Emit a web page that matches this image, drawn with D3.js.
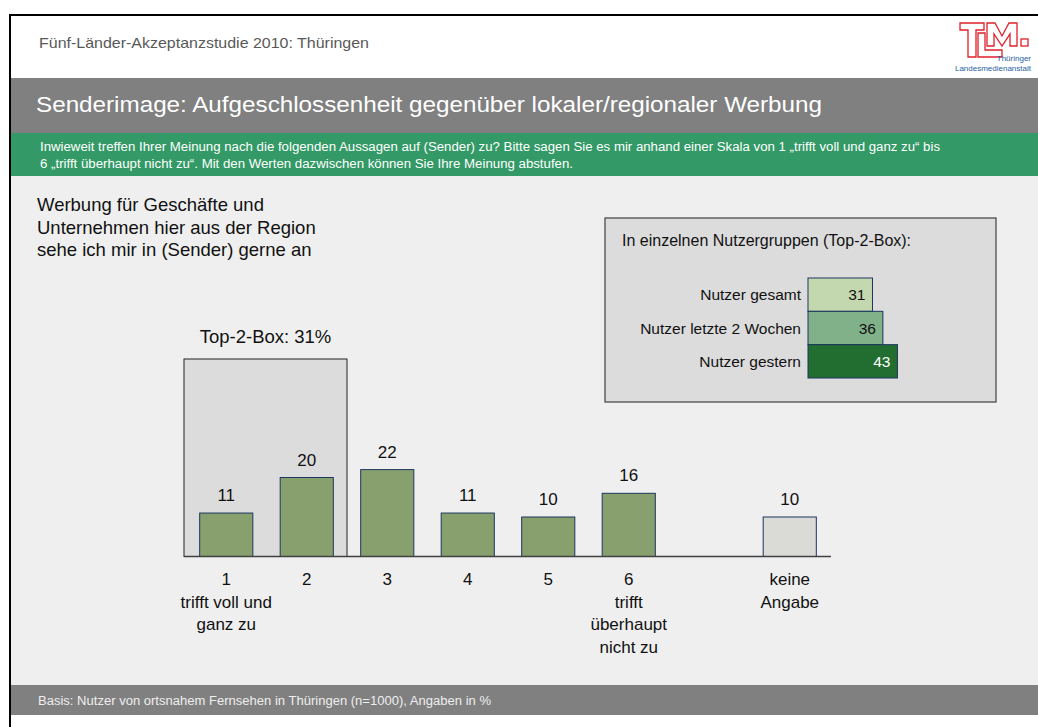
<!DOCTYPE html>
<html><head><meta charset="utf-8">
<script src="https://cdn.jsdelivr.net/npm/d3@7"></script>
<style>html,body{margin:0;padding:0;background:#fff;}svg{display:block;font-family:"Liberation Sans",Arial,sans-serif;}</style>
</head><body>
<script>
// ---- data ----
const categories = ["1","2","3","4","5","6","","keine Angabe"];
const values = [11,20,22,11,10,16,null,10];
const categoryLabels = [["1","trifft voll und","ganz zu"],["2"],["3"],["4"],["5"],["6","trifft","überhaupt","nicht zu"],[],["keine","Angabe"]];
const top2Label = "Top-2-Box: 31%";
const groups = ["Nutzer gesamt","Nutzer letzte 2 Wochen","Nutzer gestern"];
const groupValues = [31,36,43];
const groupColors = ["#c4d8b0","#80b189","#226e30"];
const questionLines = ["Werbung für Geschäfte und","Unternehmen hier aus der Region","sehe ich mir in (Sender) gerne an"];
const introLines = ["Inwieweit treffen Ihrer Meinung nach die folgenden Aussagen auf (Sender) zu? Bitte sagen Sie es mir anhand einer Skala von 1 „trifft voll und ganz zu“ bis",
  "6 „trifft überhaupt nicht zu“. Mit den Werten dazwischen können Sie Ihre Meinung abstufen."];
const introLengths = [900,533];

const W=1038,H=727;
const svg=d3.select("body").append("svg").attr("width",W).attr("height",H);

// frame & bands
svg.append("rect").attr("x",10).attr("y",15).attr("width",W-10).attr("height",H-15).attr("fill","#fff");
svg.append("rect").attr("x",10).attr("y",78).attr("width",W-10).attr("height",55).attr("fill","#808080");
svg.append("rect").attr("x",10).attr("y",133).attr("width",W-10).attr("height",43).attr("fill","#339966");
svg.append("rect").attr("x",10).attr("y",176).attr("width",W-10).attr("height",509).attr("fill","#efefef");
svg.append("rect").attr("x",10).attr("y",685).attr("width",W-10).attr("height",30).attr("fill","#808080");
svg.append("line").attr("x1",9).attr("x2",W).attr("y1",15).attr("y2",15).attr("stroke","#000").attr("stroke-width",2);
svg.append("line").attr("x1",10).attr("x2",10).attr("y1",14).attr("y2",H).attr("stroke","#000").attr("stroke-width",2);

svg.append("text").attr("x",39).attr("y",48).attr("font-size",14.5).attr("textLength",330).attr("lengthAdjust","spacingAndGlyphs")
  .attr("fill","#595959").text("Fünf-Länder-Akzeptanzstudie 2010: Thüringen");
svg.append("text").attr("x",36).attr("y",112).attr("font-size",22).attr("textLength",786).attr("lengthAdjust","spacingAndGlyphs")
  .attr("fill","#fff").text("Senderimage: Aufgeschlossenheit gegenüber lokaler/regionaler Werbung");
introLines.forEach((t,i)=>svg.append("text").attr("x",40).attr("y",151+i*16.5).attr("font-size",12).attr("textLength",introLengths[i])
  .attr("lengthAdjust","spacingAndGlyphs").attr("fill","#fff").text(t));
svg.append("text").attr("x",38).attr("y",705).attr("font-size",12).attr("textLength",453).attr("lengthAdjust","spacingAndGlyphs")
  .attr("fill","#eeeeee").text("Basis: Nutzer von ortsnahem Fernsehen in Thüringen (n=1000), Angaben in %");

// logo (outlined letter shapes)
const logo=svg.append("g").attr("fill","#fff").attr("stroke","#e0202a").attr("stroke-width",1.3);
logo.append("path").attr("d","M960,23H984V30H976V57H968V30H960Z");            // T
logo.append("path").attr("d","M978,33H985V50H1002V57H978Z");                   // L
logo.append("path").attr("d","M987,23H995L1002,36L1009,23H1017V46H1010V34L1002,46L994,34V46H987Z"); // M
logo.append("rect").attr("x",1021).attr("y",39).attr("width",7).attr("height",7); // dot
svg.append("text").attr("x",1031).attr("y",61).attr("text-anchor","end").attr("font-size",8).attr("fill","#1f5fa0").text("Thüringer");
svg.append("text").attr("x",1031).attr("y",71).attr("text-anchor","end").attr("font-size",8).attr("fill","#1f5fa0").text("Landesmedienanstalt");

// question text
questionLines.forEach((t,i)=>svg.append("text").attr("x",37).attr("y",211+i*22.5).attr("font-size",18.5).attr("fill","#111").text(t));

// main chart
const x=d3.scaleBand().domain(categories.map((c,i)=>i)).range([186,830]).paddingInner(0.34).paddingOuter(0.17);
const y=d3.scaleLinear().domain([0,25]).range([556.5,457.75]);

// top-2 box
const boxRight = x(1)+x.bandwidth()+(x.step()-x.bandwidth())/2;
svg.append("rect").attr("x",184).attr("y",y(50)).attr("width",boxRight-184).attr("height",y(0)-y(50))
  .attr("fill","#dcdcdc").attr("stroke","#222").attr("stroke-width",1);
svg.append("text").attr("x",(184+boxRight)/2).attr("y",y(50)-16).attr("text-anchor","middle").attr("font-size",18.5).attr("fill","#111").text(top2Label);

const data=categories.map((c,i)=>({i,c,v:values[i]})).filter(d=>d.v!=null);
svg.selectAll("rect.bar").data(data).enter().append("rect").attr("class","bar")
  .attr("x",d=>x(d.i)).attr("y",d=>y(d.v)).attr("width",x.bandwidth()).attr("height",d=>y(0)-y(d.v))
  .attr("fill",d=>d.c==="keine Angabe"?"#dadad6":"#87a06e").attr("stroke","#1c355e").attr("stroke-width",1);
svg.selectAll("text.val").data(data).enter().append("text").attr("class","val")
  .attr("x",d=>x(d.i)+x.bandwidth()/2).attr("y",d=>y(d.v)-12).attr("text-anchor","middle").attr("font-size",17).attr("fill","#111").text(d=>d.v);

const ax=svg.append("g").attr("transform",`translate(0,${y(0)})`).call(d3.axisBottom(x).tickSize(0).tickSizeOuter(0).tickFormat(""));
ax.select(".domain").attr("stroke","#404040").attr("stroke-width",1.5).attr("d","M184,0H831");
categoryLabels.forEach((lines,i)=>{
  const t=svg.append("text").attr("text-anchor","middle").attr("font-size",17).attr("fill","#111");
  lines.forEach((l,j)=>t.append("tspan").attr("x",x(i)+x.bandwidth()/2).attr("y",585+j*22.5).text(l));
});

// inset
svg.append("rect").attr("x",605).attr("y",218).attr("width",391).attr("height",184).attr("fill","#dcdcdc").attr("stroke","#404040").attr("stroke-width",1.2);
svg.append("text").attr("x",622).attr("y",246).attr("font-size",16).attr("fill","#111").text("In einzelnen Nutzergruppen (Top-2-Box):");
const gy=d3.scaleBand().domain(groups).range([278,378]).padding(0);
const gx=d3.scaleLinear().domain([0,100]).range([808,1016]);
groups.forEach((g,i)=>{
  svg.append("rect").attr("x",gx(0)).attr("y",gy(g)).attr("width",gx(groupValues[i])-gx(0)).attr("height",gy.bandwidth())
    .attr("fill",groupColors[i]).attr("stroke","#1c355e").attr("stroke-width",1);
  svg.append("text").attr("x",gx(groupValues[i])-7).attr("y",gy(g)+gy.bandwidth()/2+5.5).attr("text-anchor","end").attr("font-size",15.5)
    .attr("fill",i===2?"#fff":"#111").text(groupValues[i]);
  svg.append("text").attr("x",801).attr("y",gy(g)+gy.bandwidth()/2+5.5).attr("text-anchor","end").attr("font-size",15.5).attr("fill","#111").text(g);
});
</script>
</body></html>
